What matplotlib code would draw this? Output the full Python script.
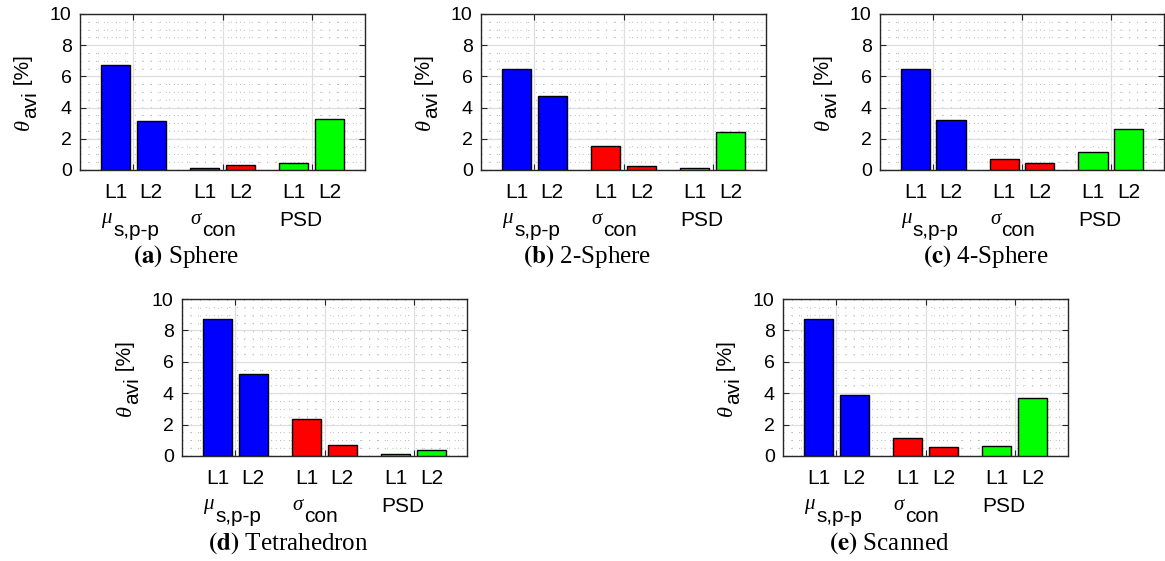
import matplotlib
matplotlib.use("Agg")
import matplotlib.pyplot as plt
import numpy as np
from matplotlib.ticker import MultipleLocator

# ---------------- data ----------------
level_labels = ["L1", "L2"]
group_symbols = ["\u03bc", "\u03c3", ""]
group_subs = ["s,p-p", "con", ""]
group_plain = ["", "", "PSD"]
group_colors = ["#0000ff", "#ff0000", "#00ff00"]

panel_letters = ["(a)", "(b)", "(c)", "(d)", "(e)"]
panel_names = ["Sphere", "2-Sphere", "4-Sphere", "Tetrahedron", "Scanned"]

# values per panel: [mu L1, mu L2, sigma L1, sigma L2, PSD L1, PSD L2]
sphere = [6.75, 3.15, 0.10, 0.32, 0.47, 3.30]
sphere2 = [6.45, 4.73, 1.55, 0.26, 0.13, 2.43]
sphere4 = [6.48, 3.18, 0.71, 0.47, 1.16, 2.66]
tetra = [8.75, 5.20, 2.35, 0.70, 0.12, 0.38]
scanned = [8.75, 3.90, 1.17, 0.55, 0.62, 3.69]
panel_values = [sphere, sphere2, sphere4, tetra, scanned]

ylabel_symbol = "\u03b8"
ylabel_sub = "avi"
ylabel_unit = " [%]"

# ---------------- style ----------------
plt.rcParams["font.family"] = ["Liberation Sans", "DejaVu Sans"]

W, H = 1165, 561
fig = plt.figure(figsize=(W / 100, H / 100), dpi=100)

# axes rectangles in pixels: left, top, width, height
rects = [
    (80, 14, 285, 156),
    (481, 14, 285, 156),
    (880, 14, 284, 156),
    (182, 299, 285, 157),
    (783, 299, 285, 157),
]

FS_TICK = 14
FS = 15
spine_col = (0.15, 0.15, 0.15)
offsets = [-0.2, 0.2]
bar_w = 0.33

for i, (l, t, w, h) in enumerate(rects):
    ax = fig.add_axes([l / W, (H - t - h) / H, w / W, h / H])
    vals = panel_values[i]
    centers = np.arange(1, len(group_colors) + 1)
    for g, c in enumerate(centers):
        for k, off in enumerate(offsets):
            ax.bar(c + off, vals[2 * g + k], width=bar_w, color=group_colors[g],
                   edgecolor="black", linewidth=1.0, zorder=3)
    ax.set_xlim(0.4, 3.6)
    ax.set_ylim(0, 10)
    ax.set_xticks(centers)
    ax.set_xticklabels([])
    ax.set_yticks(np.arange(0, 11, 2))
    ax.xaxis.set_minor_locator(MultipleLocator(0.1))
    ax.yaxis.set_minor_locator(MultipleLocator(0.5))
    ax.tick_params(which="major", direction="in", length=4, width=0.8,
                   top=True, right=True, labelsize=FS_TICK, color=spine_col,
                   pad=6)
    ax.tick_params(which="minor", length=0, top=True, right=True)
    ax.grid(which="major", color=(0.87, 0.87, 0.87), linewidth=0.9, zorder=0)
    ax.grid(which="minor", color=(0.72, 0.72, 0.72), linewidth=0.7,
            linestyle=(0, (1, 7)), zorder=0)
    ax.set_axisbelow(True)
    for s in ax.spines.values():
        s.set_color(spine_col)
        s.set_linewidth(1.0)

    # y label built MATLAB-style (full-size subscript)
    bx = -51 / w
    y0 = 40 / h
    t1 = ax.text(bx, y0, ylabel_symbol, transform=ax.transAxes, rotation=90,
                 rotation_mode="anchor", ha="left", va="baseline",
                 fontsize=16, family="Liberation Serif", style="italic")
    t2 = ax.annotate(ylabel_sub, xy=(bx, 1), xycoords=("axes fraction", t1),
                     xytext=(7, 1), textcoords="offset pixels", rotation=90,
                     rotation_mode="anchor", ha="left", va="baseline",
                     fontsize=FS)
    ax.annotate(ylabel_unit, xy=(bx, 1), xycoords=("axes fraction", t2),
                xytext=(0, 0), textcoords="offset pixels", rotation=90,
                rotation_mode="anchor", ha="left", va="baseline",
                fontsize=FS)

    # L1/L2 labels and group labels
    for g, c in enumerate(centers):
        for k, off in enumerate(offsets):
            ax.annotate(level_labels[k], xy=(c + off, 0),
                        xycoords=("data", "axes fraction"),
                        xytext=(0, -23), textcoords="offset pixels",
                        ha="center", va="center", fontsize=FS)
        if group_plain[g]:
            ax.annotate(group_plain[g], xy=(c - 0.12, 0),
                        xycoords=("data", "axes fraction"),
                        xytext=(0, -50), textcoords="offset pixels",
                        ha="center", va="center", fontsize=FS)
        else:
            x0 = c - 0.23
            ax.annotate(group_subs[g], xy=(x0, 0),
                        xycoords=("data", "axes fraction"),
                        xytext=(0, -61), textcoords="offset pixels",
                        ha="left", va="center", fontsize=FS)
            ax.annotate(group_symbols[g], xy=(x0, 0),
                        xycoords=("data", "axes fraction"),
                        xytext=(-1, -49), textcoords="offset pixels",
                        ha="right", va="center", fontsize=FS,
                        family="Liberation Serif", style="italic")

    # caption
    cx = (l + w / 2 - 36) / W
    cy = (H - (t + h + 87)) / H
    fig.text(cx, cy, r"$\mathbf{" + panel_letters[i] + "}$ " + panel_names[i],
             fontsize=18, family="Liberation Serif", math_fontfamily="stix",
             ha="center", va="center")

fig.savefig("out.png", dpi=100)
